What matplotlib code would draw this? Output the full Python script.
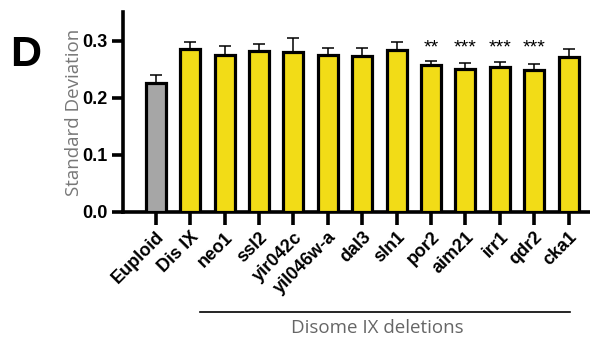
import matplotlib.pyplot as plt
import numpy as np

# standard deviation per strain, with SEM error bars
strains = ['Euploid', 'Dis IX', 'neo1', 'ssl2', 'yir042c', 'yil046w-a', 'dal3',
           'sln1', 'por2', 'aim21', 'irr1', 'qdr2', 'cka1']
sd_mean = [0.225, 0.286, 0.275, 0.281, 0.280, 0.275, 0.273,
           0.284, 0.257, 0.250, 0.254, 0.249, 0.271]
sd_err = [0.014, 0.011, 0.015, 0.013, 0.024, 0.012, 0.014,
          0.013, 0.008, 0.011, 0.009, 0.010, 0.014]
stars = ['', '', '', '', '', '', '', '', '**', '***', '***', '***', '']

plt.rcParams['font.family'] = ['Liberation Sans', 'DejaVu Sans']

fig = plt.figure(figsize=(5.9, 3.43), dpi=100)
ax = fig.add_axes([0.208, 0.382, 0.792, 0.583])

x = np.arange(len(strains))
colors = ['#a6a6a6'] + ['#f2dc17'] * (len(strains) - 1)
ax.bar(x, sd_mean, width=0.58, color=colors, edgecolor='black', linewidth=2.3, zorder=3)
ax.errorbar(x, sd_mean, yerr=[np.zeros(len(x)), sd_err], fmt='none', ecolor='black',
            elinewidth=1.1, capsize=4.5, capthick=1.1, zorder=2)

for xi, s in zip(x, stars):
    if s:
        ax.text(xi, 0.287, s, ha='center', va='center', fontsize=14, color='black')

ax.set_xlim(-0.96, 12.62)
ax.set_ylim(0, 0.35)
ax.set_yticks([0, 0.1, 0.2, 0.3])
ax.set_yticklabels(['0.0', '0.1', '0.2', '0.3'], fontsize=13, fontweight='bold')
ax.set_xticks(x)
ax.set_xticklabels(strains, rotation=45, ha='right', rotation_mode='anchor',
                   fontsize=13, fontweight='bold')

for side in ['top', 'right']:
    ax.spines[side].set_visible(False)
for side in ['left', 'bottom']:
    ax.spines[side].set_linewidth(2.6)
ax.tick_params(axis='both', width=2.6, length=8, pad=3)
ax.tick_params(axis='x', length=9)

ax.set_ylabel('Standard Deviation', fontsize=13.5, color='#777777',
              family=['Open Sans', 'DejaVu Sans'], labelpad=-1)

fig.text(0.018, 0.84, 'D', fontsize=31, fontweight='bold', ha='left', va='center')

# bracket for the deletion strains
fig.add_artist(plt.Line2D([200 / 590, 570 / 590], [1 - 312 / 343, 1 - 312 / 343],
                          color='black', linewidth=1.2))
fig.text(377 / 590, 1 - 328 / 343, 'Disome IX deletions', fontsize=13.5,
         color='#666666', ha='center', va='center',
         family=['Open Sans', 'DejaVu Sans'])

fig.savefig('out.png', dpi=100)
